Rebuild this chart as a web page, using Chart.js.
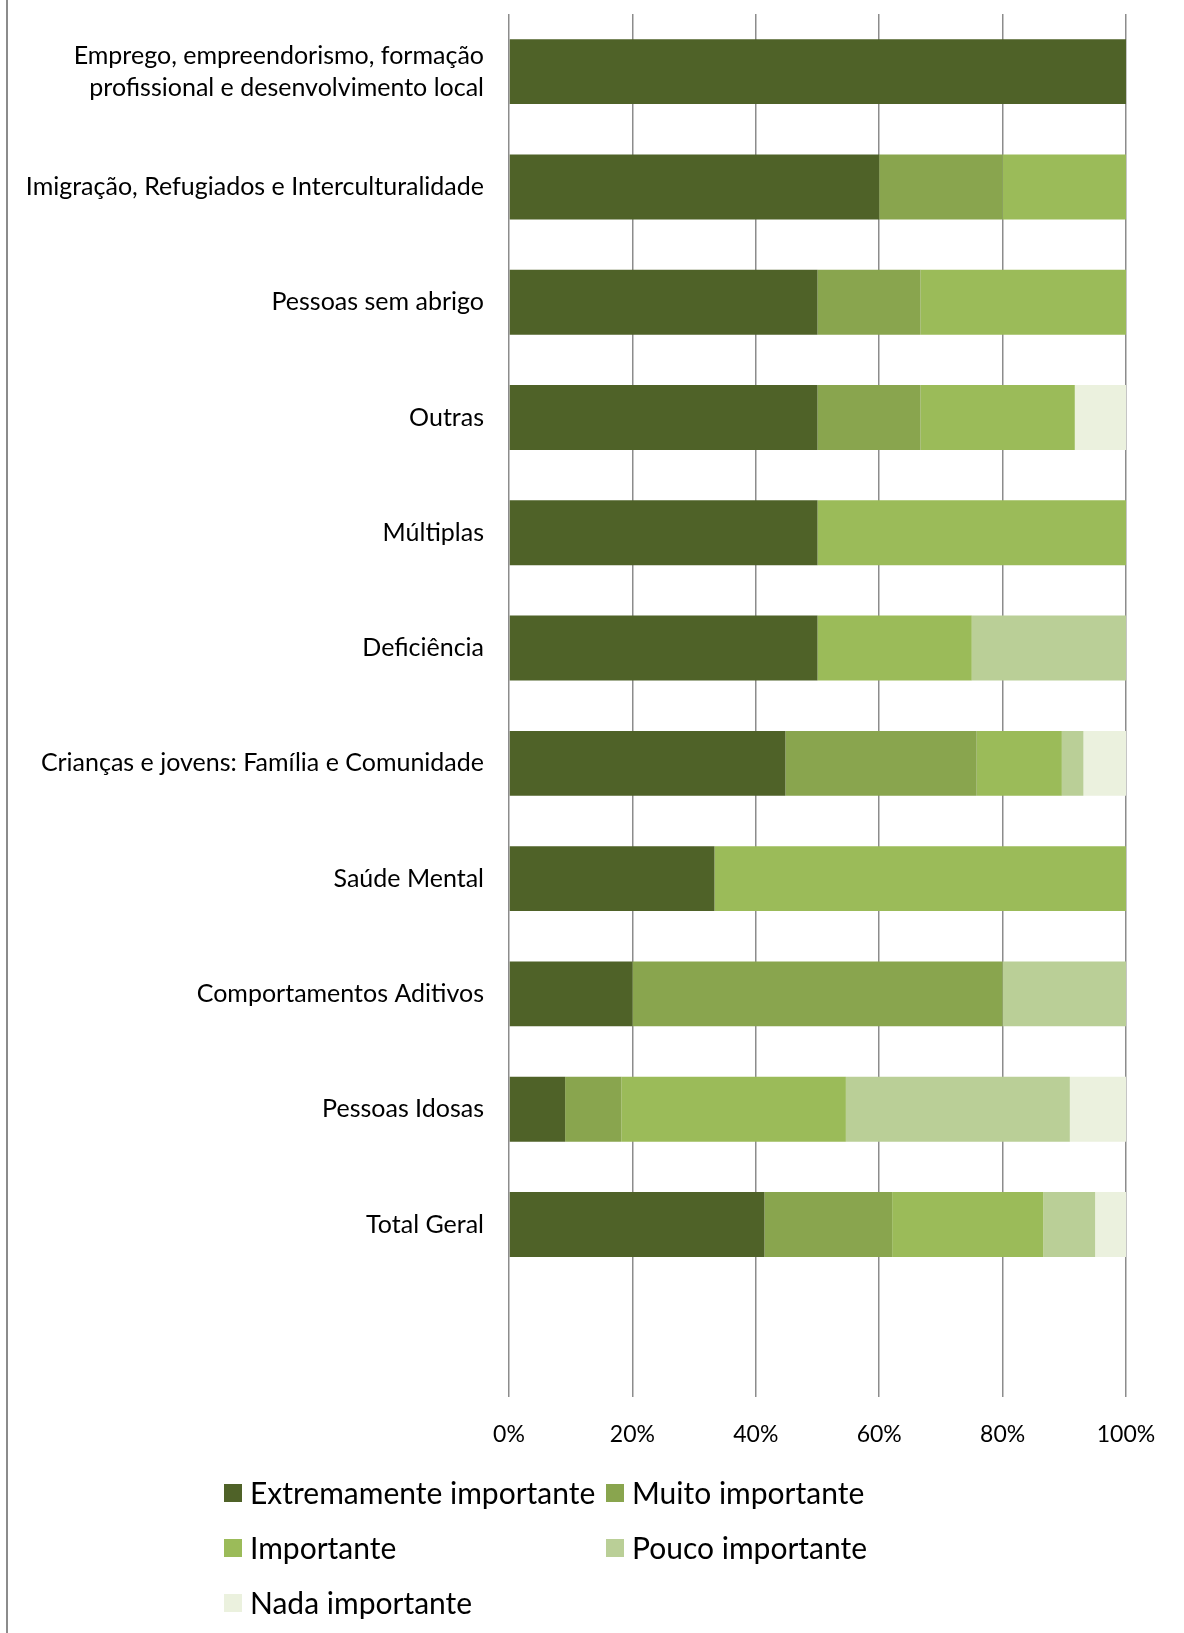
<!DOCTYPE html>
<html>
<head>
<meta charset="utf-8">
<script src="https://cdn.jsdelivr.net/npm/chart.js@4"></script>
<style>
  html, body { margin: 0; padding: 0; background: #fff; }
  #wrap { width: 1184px; height: 1633px; position: relative; }
</style>
</head>
<body>
<div id="wrap"><canvas id="chart"></canvas></div>
<script>
// áreas de intervenção (a última fica vazia para deixar espaço no fundo)
const categories = [
  ['Emprego, empreendorismo, formação', 'profissional e desenvolvimento local'],
  'Imigração, Refugiados e Interculturalidade',
  'Pessoas sem abrigo',
  'Outras',
  'Múltiplas',
  'Deficiência',
  'Crianças e jovens: Família e Comunidade',
  'Saúde Mental',
  'Comportamentos Aditivos',
  'Pessoas Idosas',
  'Total Geral',
  ''
];

// percentagens por nível de importância
const extremamente = [100, 60, 50, 50, 50, 50, 44.8, 33.3, 20, 9.1, 41.4, null];
const muito        = [0, 20, 16.7, 16.7, 0, 0, 31.0, 0, 60, 9.1, 20.7, null];
const importante   = [0, 20, 33.3, 25, 50, 25, 13.8, 66.7, 0, 36.4, 24.5, null];
const pouco        = [0, 0, 0, 0, 0, 25, 3.5, 0, 20, 36.3, 8.4, null];
const nada         = [0, 0, 0, 8.3, 0, 0, 6.9, 0, 0, 9.1, 5.0, null];

const xTicks = [0, 20, 40, 60, 80, 100];

const fontFamily = 'Lato, "Open Sans", sans-serif';

// moldura à esquerda + legenda em duas colunas
const frameAndLegend = {
  id: 'frameAndLegend',
  afterDraw(chart) {
    const ctx = chart.ctx;
    ctx.save();
    ctx.strokeStyle = '#8c8c8c';
    ctx.lineWidth = 2;
    ctx.beginPath();
    ctx.moveTo(7, 0);
    ctx.lineTo(7, chart.height);
    ctx.stroke();

    ctx.font = '30px ' + fontFamily;
    ctx.textBaseline = 'middle';
    ctx.textAlign = 'left';
    chart.data.datasets.forEach((ds, i) => {
      const col = i % 2, row = Math.floor(i / 2);
      const x = 224 + col * 382;
      const y = 1493 + row * 55;
      ctx.fillStyle = ds.backgroundColor;
      ctx.fillRect(x, y - 9, 18, 18);
      ctx.fillStyle = '#000';
      ctx.fillText(ds.label, x + 26, y + 1);
    });
    ctx.restore();
  }
};

const makeSet = (label, data, color) => ({
  label: label,
  data: data,
  backgroundColor: color,
  borderWidth: 0,
  barPercentage: 0.563,
  categoryPercentage: 1
});

new Chart(document.getElementById('chart'), {
  type: 'bar',
  data: {
    labels: categories,
    datasets: [
      makeSet('Extremamente importante', extremamente, '#4f6228'),
      makeSet('Muito importante', muito, '#89a54e'),
      makeSet('Importante', importante, '#9bbb59'),
      makeSet('Pouco importante', pouco, '#bacf97'),
      makeSet('Nada importante', nada, '#ebf1de')
    ]
  },
  options: {
    indexAxis: 'y',
    responsive: true,
    maintainAspectRatio: false,
    animation: false,
    layout: { padding: { top: 14, right: 58, bottom: 162, left: 0 } },
    plugins: {
      legend: { display: false },
      tooltip: { enabled: false }
    },
    scales: {
      x: {
        stacked: true,
        min: 0,
        max: 100,
        afterBuildTicks: (scale) => { scale.ticks = xTicks.map(v => ({ value: v })); },
        grid: { color: '#8c8c8c', lineWidth: 1.5, drawTicks: false },
        border: { display: false },
        ticks: {
          padding: 23,
          color: '#000',
          font: { family: fontFamily, size: 23 },
          callback: (v) => v + '%'
        }
      },
      y: {
        stacked: true,
        grid: { display: false, drawTicks: false },
        border: { display: false },
        afterFit: (scale) => {
          scale.width = 509;
          scale.paddingTop = 0;
          scale.paddingBottom = 0;
        },
        ticks: {
          padding: 25,
          color: '#000',
          font: { family: fontFamily, size: 25, lineHeight: 1.28 }
        }
      }
    }
  },
  plugins: [frameAndLegend]
});
</script>
</body>
</html>
